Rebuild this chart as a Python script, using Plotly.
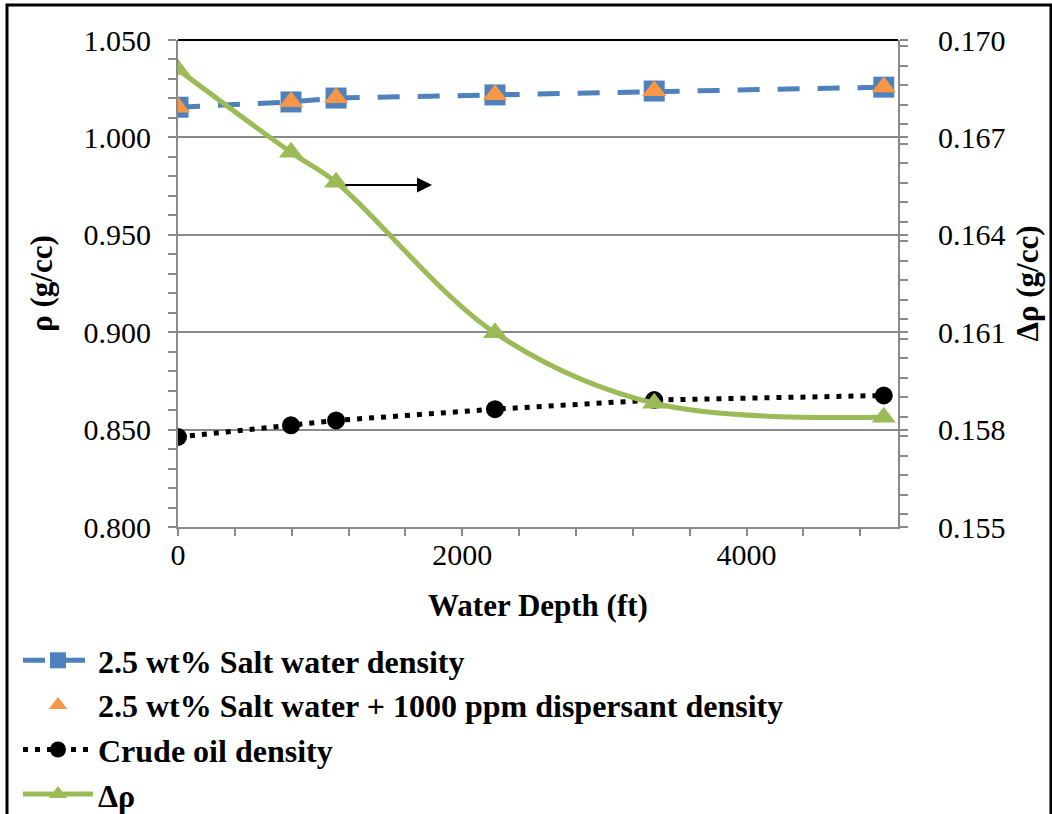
import plotly.graph_objects as go

# ---- data ----
depth_ft = [0, 795, 1112, 2230, 3350, 4965]
salt_water = [1.0155, 1.0182, 1.0202, 1.0218, 1.0238, 1.0258]
salt_dispersant = [1.0155, 1.0183, 1.0203, 1.0219, 1.0239, 1.0259]
crude_oil = [0.8462, 0.8522, 0.8547, 0.8605, 0.8652, 0.8675]
delta_rho = [0.16909, 0.16654, 0.16562, 0.16098, 0.15881, 0.15838]

names = ["2.5 wt% Salt water density",
         "2.5 wt% Salt water + 1000 ppm dispersant density",
         "Crude oil density",
         "Δρ"]

FONT = "Liberation Serif, Times New Roman, serif"
GRAY = "#8a8a8a"
W, H = 1052, 814
L, R, T, B = 178, 154, 40, 287
pw, ph = W - L - R, H - T - B

def px_x(p):
    return (p - L) / pw

def px_y(p):
    return (H - B - p) / ph

fig = go.Figure()
fig.add_trace(go.Scatter(
    x=depth_ft, y=salt_water, name=names[0], mode="lines+markers",
    line=dict(color="#4F81BD", width=5, dash="22px,18px"),
    marker=dict(symbol="square", size=21, color="#4F81BD"),
    yaxis="y"))
fig.add_trace(go.Scatter(
    x=depth_ft, y=salt_dispersant, name=names[1], mode="markers",
    marker=dict(symbol="triangle-up", size=21, color="#F79646"),
    yaxis="y"))
fig.add_trace(go.Scatter(
    x=depth_ft, y=crude_oil, name=names[2], mode="lines+markers",
    line=dict(color="black", width=5, dash="5px,7px"),
    marker=dict(symbol="circle", size=18, color="black"),
    yaxis="y"))
fig.add_trace(go.Scatter(
    x=depth_ft, y=delta_rho, name=names[3], mode="lines+markers",
    line=dict(color="#9BBB59", width=5, shape="spline", smoothing=1.0),
    marker=dict(symbol="triangle-up", size=21, color="#9BBB59"),
    yaxis="y2"))

tickfont = dict(family=FONT, size=30, color="black")
titlefont = dict(family=FONT, size=31, color="black", weight="bold")

fig.update_layout(
    width=W, height=H,
    margin=dict(l=L, r=R, t=T, b=B, pad=0, autoexpand=False),
    paper_bgcolor="white", plot_bgcolor="white",
    font=dict(family=FONT, color="black"),
    showlegend=True,
    legend=dict(
        orientation="v", x=px_x(18), y=px_y(633), xanchor="left", yanchor="top",
        font=dict(family=FONT, size=32, color="black", weight="bold"),
        itemwidth=70, bgcolor="rgba(0,0,0,0)", traceorder="normal",
        tracegroupgap=0),
    xaxis=dict(
        range=[0, 5065], dtick=2000, tick0=0, showgrid=False, zeroline=False,
        automargin=False,
        showline=True, linecolor=GRAY, linewidth=2,
        ticks="outside", ticklen=7, tickcolor=GRAY, tickwidth=2,
        minor=dict(dtick=400, ticks="outside", ticklen=7, tickcolor=GRAY,
                   tickwidth=2, showgrid=False),
        tickfont=tickfont, ticklabelstandoff=-7,
        title=dict(text="Water Depth (ft)", font=titlefont, standoff=24)),
    yaxis=dict(
        range=[0.8, 1.05], dtick=0.05, tick0=0.8, tickformat=".3f",
        automargin=False,
        showgrid=True, gridcolor=GRAY, gridwidth=2, zeroline=False,
        showline=True, linecolor=GRAY, linewidth=2,
        ticks="outside", ticklen=8, tickcolor=GRAY, tickwidth=2,
        minor=dict(dtick=0.01, ticks="outside", ticklen=8, tickcolor=GRAY,
                   tickwidth=2, showgrid=False),
        tickfont=tickfont, ticklabelstandoff=11,
        title=dict(text="ρ (g/cc)", font=titlefont, standoff=22)),
    yaxis2=dict(
        range=[0.155, 0.170], dtick=0.003, tick0=0.155, tickformat=".3f",
        automargin=False,
        overlaying="y", side="right", showgrid=False, zeroline=False,
        showline=True, linecolor=GRAY, linewidth=2,
        ticks="outside", ticklen=8, tickcolor=GRAY, tickwidth=2,
        minor=dict(dtick=0.0006, ticks="outside", ticklen=8, tickcolor=GRAY,
                   tickwidth=2, showgrid=False),
        tickfont=tickfont, ticklabelstandoff=24,
        title=dict(text="Δρ (g/cc)", font=titlefont, standoff=12)),
    shapes=[
        dict(type="line", xref="paper", yref="paper", x0=0, x1=1, y0=1, y1=1,
             line=dict(color="black", width=2)),
        dict(type="rect", xref="paper", yref="paper",
             x0=px_x(7), x1=px_x(1051), y0=px_y(5), y1=px_y(830),
             line=dict(color="black", width=3), fillcolor="rgba(0,0,0,0)"),
    ],
    annotations=[
        dict(x=1787, y=0.9756, ax=1167, ay=0.9756, xref="x", yref="y",
             axref="x", ayref="y", text="", showarrow=True,
             arrowhead=2, arrowwidth=2, arrowsize=1.5, arrowcolor="black"),
    ],
)

fig.write_html(
    "out.html",
    config={"displayModeBar": False},
    post_script="document.body.style.margin='0px';document.body.style.padding='0px';document.body.style.overflow='hidden';",
)
